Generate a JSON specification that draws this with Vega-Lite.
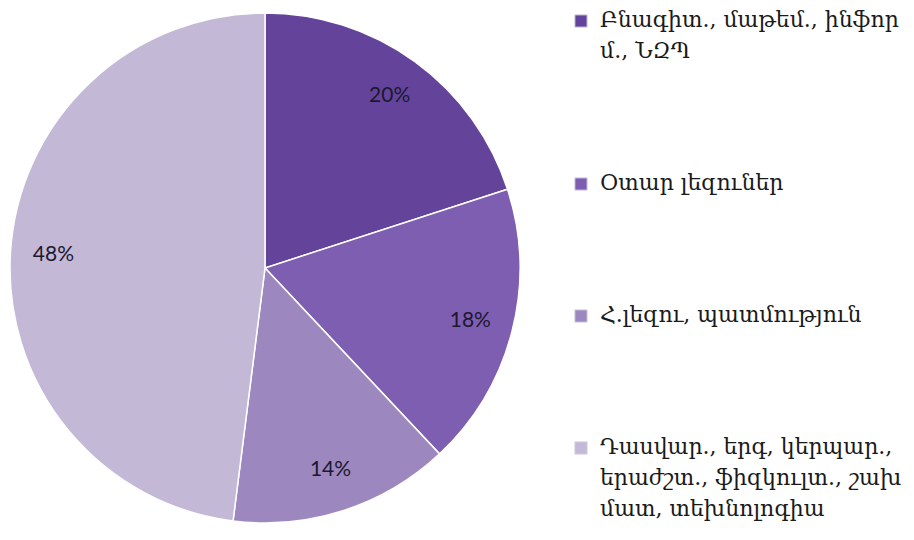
{
  "$schema": "https://vega.github.io/schema/vega-lite/v6.json",
  "width": 530,
  "height": 536,
  "padding": {"left": 0, "top": 0, "right": 5, "bottom": 4},
  "background": "white",
  "config": {"view": {"stroke": null}},
  "data": {
    "values": [
      {"group": "Բնագիտ., մաթեմ., ինֆոր|մ., ՆԶՊ", "share": 20, "order": 1, "label": "20%"},
      {"group": "Օտար լեզուներ", "share": 18, "order": 2, "label": "18%"},
      {"group": "Հ.լեզու, պատմություն", "share": 14, "order": 3, "label": "14%"},
      {"group": "Դասվար., երգ, կերպար.,|երաժշտ., ֆիզկուլտ., շախ|մատ, տեխնոլոգիա", "share": 48, "order": 4, "label": "48%"}
    ]
  },
  "encoding": {
    "theta": {"field": "share", "type": "quantitative", "stack": true},
    "order": {"field": "order", "type": "quantitative"}
  },
  "layer": [
    {
      "mark": {"type": "arc", "outerRadius": 255, "stroke": "white", "strokeWidth": 1.5},
      "encoding": {
        "color": {
          "field": "group",
          "type": "nominal",
          "sort": null,
          "scale": {
            "domain": ["Բնագիտ., մաթեմ., ինֆոր|մ., ՆԶՊ", "Օտար լեզուներ", "Հ.լեզու, պատմություն", "Դասվար., երգ, կերպար.,|երաժշտ., ֆիզկուլտ., շախ|մատ, տեխնոլոգիա"],
            "range": ["#64449a", "#7e5eb1", "#9c88bf", "#c3b8d6"]
          },
          "legend": {
            "title": null,
            "orient": "none",
            "legendX": 570,
            "legendY": 10,
            "symbolType": "square",
            "symbolSize": 150,
            "symbolStrokeColor": "#d8d0e4",
            "symbolStrokeWidth": 1,
            "labelFont": "DejaVu Serif",
            "labelFontSize": 22,
            "labelColor": "#1a1a1a",
            "labelLimit": 400,
            "labelBaseline": "alphabetic",
            "labelOffset": 8,
            "labelExpr": "split(datum.label, '|')",
            "rowPadding": 110,
            "encode": {"labels": {"update": {"lineHeight": {"value": 31}, "dy": {"value": 6}}}}
          }
        }
      }
    },
    {
      "mark": {"type": "text", "radius": 212, "font": "Lato", "fontSize": 21, "color": "#1c1830"},
      "encoding": {"text": {"field": "label", "type": "nominal"}}
    }
  ]
}
